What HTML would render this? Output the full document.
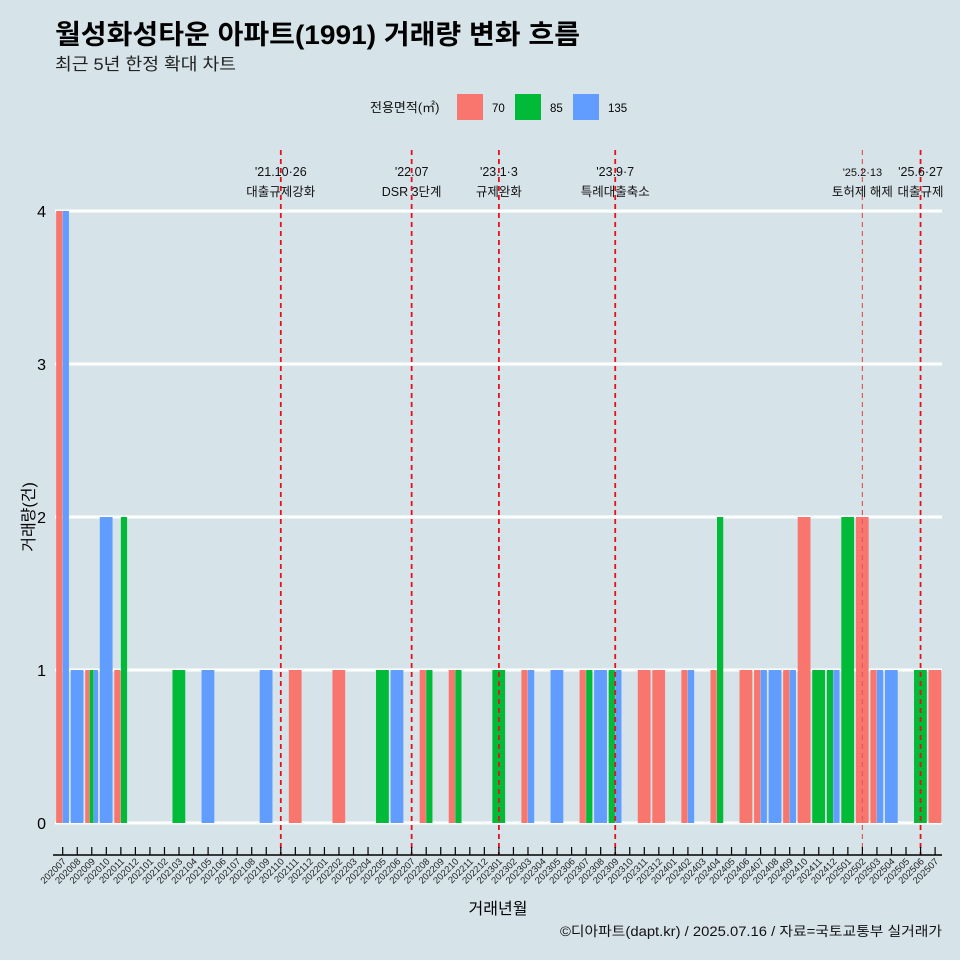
<!DOCTYPE html>
<html><head><meta charset="utf-8"><style>
html,body{margin:0;padding:0;background:#d6e4ea;}
svg{display:block;font-family:"Liberation Sans","Noto Sans CJK KR",sans-serif;}
</style></head><body>
<svg id="chart" width="960" height="960" xmlns="http://www.w3.org/2000/svg">
<rect width="960" height="960" fill="#d6e4ea"/>
<text x="55" y="44" font-size="27" font-weight="bold" fill="#000" textLength="525" lengthAdjust="spacingAndGlyphs">월성화성타운 아파트(1991) 거래량 변화 흐름</text>
<text x="55" y="70" font-size="17" fill="#222" textLength="181" lengthAdjust="spacingAndGlyphs">최근 5년 한정 확대 차트</text>
<g>
<text x="370" y="112" font-size="13" fill="#111">전용면적(㎡)</text>
<rect x="457" y="94" width="26" height="26" fill="#f8766d"/>
<text x="492" y="112" font-size="11.5">70</text>
<rect x="515" y="94" width="26" height="26" fill="#00ba38"/>
<text x="550" y="112" font-size="11.5">85</text>
<rect x="573" y="94" width="26" height="26" fill="#619cff"/>
<text x="608" y="112" font-size="11.5">135</text>
</g>
<g id="grid"></g><g id="bars"></g><g id="events"></g><g id="axes"></g>
<text x="498" y="914" font-size="16" text-anchor="middle">거래년월</text>
<text transform="translate(34,517) rotate(-90)" font-size="16" text-anchor="middle">거래량(건)</text>
<text x="942" y="936" font-size="13.5" text-anchor="end" fill="#111" textLength="382" lengthAdjust="spacingAndGlyphs">©디아파트(dapt.kr) / 2025.07.16 / 자료=국토교통부 실거래가</text>
</svg>
<script>
const months = [];
for (let y = 2020; y <= 2025; y++) for (let m = 1; m <= 12; m++) {
  const k = y * 100 + m;
  if (k >= 202007 && k <= 202507) months.push(String(k));
}
const sizes = ["70", "85", "135"];
const colors = {"70": "#f8766d", "85": "#00ba38", "135": "#619cff"};
const counts70 = {"202007":4,"202009":1,"202011":1,"202111":1,"202202":1,"202208":1,"202210":1,"202303":1,"202307":1,"202311":1,"202312":1,"202402":1,"202404":1,"202406":1,"202407":1,"202409":1,"202410":2,"202502":2,"202503":1,"202507":1};
const counts85 = {"202009":1,"202011":2,"202103":1,"202205":1,"202208":1,"202210":1,"202301":1,"202307":1,"202309":1,"202404":2,"202411":1,"202412":1,"202501":2,"202506":1};
const counts135 = {"202007":4,"202008":1,"202009":1,"202010":2,"202105":1,"202109":1,"202206":1,"202303":1,"202305":1,"202308":1,"202309":1,"202402":1,"202407":1,"202408":1,"202409":1,"202412":1,"202503":1,"202504":1};
const yTicks = [0, 1, 2, 3, 4];
const eventMonths = ["202110", "202207", "202301", "202309", "202502", "202506"];
const eventDates = ["'21.10·26", "'22.07", "'23.1·3", "'23.9·7", "'25.2·13", "'25.6·27"];
const eventLabels = ["대출규제강화", "DSR 3단계", "규제완화", "특례대출축소", "토허제 해제", "대출규제"];

const NS = "http://www.w3.org/2000/svg";
const X0 = 62.7, STEP = 14.54, Y0 = 823, UNIT = 153, PL = 55, PR = 942;
const xScale = i => X0 + i * STEP;
const yScale = v => Y0 - v * UNIT;
function mk(tag, attrs, parent) {
  const e = document.createElementNS(NS, tag);
  for (const k in attrs) e.setAttribute(k, attrs[k]);
  parent.appendChild(e); return e;
}
const grid = document.getElementById("grid"), bars = document.getElementById("bars"),
      ev = document.getElementById("events"), axes = document.getElementById("axes");
yTicks.forEach(t => {
  const l = mk("line", {x1: PL, x2: PR, y1: yScale(t), y2: yScale(t), stroke: "#fff", "stroke-width": 3}, grid);
  
  
  const tx = mk("text", {x: 46, y: yScale(t) + 6, "font-size": 16, "text-anchor": "end"}, axes);
  tx.textContent = t;
  
  
});
const series = {"70": counts70, "85": counts85, "135": counts135};
const GW = STEP * 0.9;
months.forEach((m, i) => {
  const present = sizes.filter(s => series[s][m]);
  const w = GW / (present.length || 1);
  present.forEach((s, j) => {
    const v = series[s][m];
    const x = xScale(i) - GW / 2 + j * w;
    const r = mk("rect", {x: x, y: yScale(v), width: Math.max(w - 0.3, 0.5), height: yScale(0) - yScale(v), fill: colors[s]}, bars);
    
    
  });
  const tk = mk("line", {x1: xScale(i), x2: xScale(i), y1: 847, y2: 855, stroke: "#000", "stroke-width": 1.2}, axes);
  
  
  const lb = mk("text", {transform: "translate(" + (xScale(i) + 4) + ",862) rotate(-45)", "font-size": 9.5, "text-anchor": "end", fill: "#222"}, axes);
  lb.textContent = m;
  
  
});
const ax = mk("line", {x1: PL - 2, x2: PR, y1: 855, y2: 855, stroke: "#000", "stroke-width": 1.5}, axes);


eventMonths.forEach((m, k) => {
  const x = xScale(months.indexOf(m));
  const light = m === "202502";
  const l = mk("line", {x1: x, x2: x, y1: 150, y2: 855, stroke: light ? "#e05a5a" : "#e8101a", "stroke-width": light ? 1.2 : 1.8, "stroke-dasharray": "5,4"}, ev);
  
  
  const fs = light ? 11 : 12.5;
  const d = mk("text", {x: x, y: 176, "font-size": fs, "text-anchor": "middle", fill: "#111"}, ev);
  d.textContent = eventDates[k];
  
  
  const t = mk("text", {x: x, y: 196, "font-size": 12.5, "text-anchor": "middle", fill: "#111"}, ev);
  t.textContent = eventLabels[k];
  
  
});
</script>
</body></html>
